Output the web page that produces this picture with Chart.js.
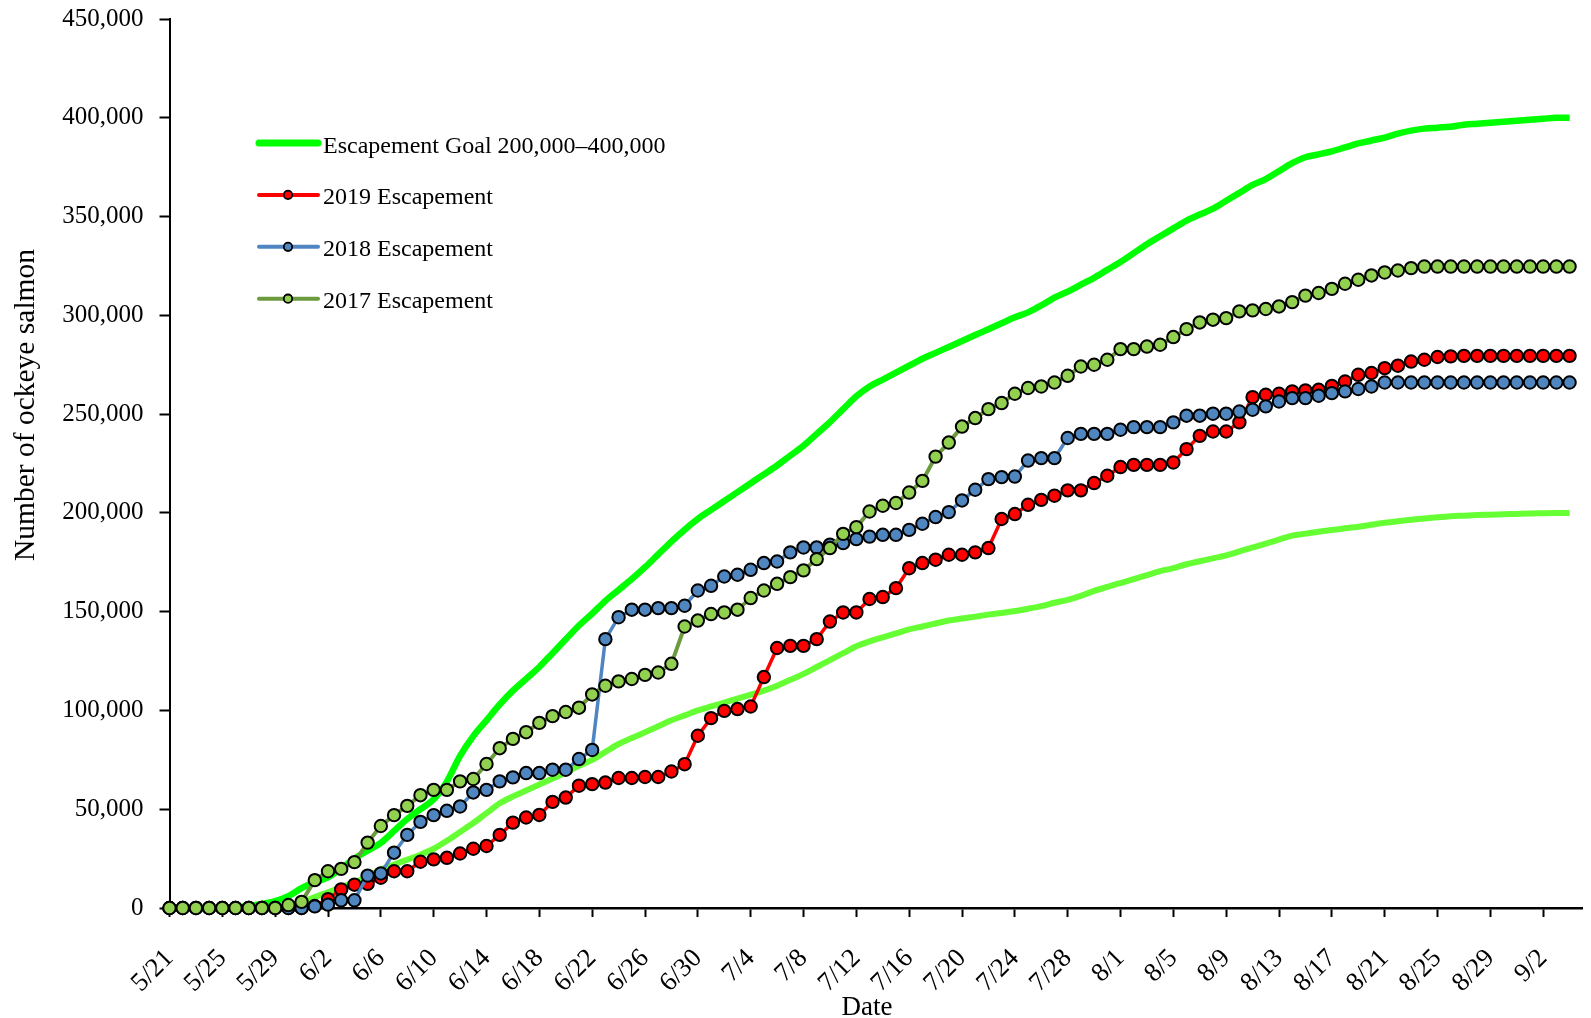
<!DOCTYPE html>
<html><head><meta charset="utf-8">
<script src="https://cdn.jsdelivr.net/npm/chart.js@4.4.1/dist/chart.umd.min.js"></script>
<style>html,body{margin:0;padding:0;background:#fff;}#wrap{position:relative;width:1591px;height:1018px;}</style>
</head><body><div id="wrap"><canvas id="c" width="1591" height="1018"></canvas></div>
<script>
const categories = [
 '5/21','5/22','5/23','5/24','5/25','5/26','5/27','5/28','5/29','5/30','5/31',
 '6/1','6/2','6/3','6/4','6/5','6/6','6/7','6/8','6/9','6/10','6/11','6/12','6/13','6/14','6/15','6/16','6/17','6/18','6/19','6/20','6/21','6/22','6/23','6/24','6/25','6/26','6/27','6/28','6/29','6/30',
 '7/1','7/2','7/3','7/4','7/5','7/6','7/7','7/8','7/9','7/10','7/11','7/12','7/13','7/14','7/15','7/16','7/17','7/18','7/19','7/20','7/21','7/22','7/23','7/24','7/25','7/26','7/27','7/28','7/29','7/30','7/31',
 '8/1','8/2','8/3','8/4','8/5','8/6','8/7','8/8','8/9','8/10','8/11','8/12','8/13','8/14','8/15','8/16','8/17','8/18','8/19','8/20','8/21','8/22','8/23','8/24','8/25','8/26','8/27','8/28','8/29','8/30','8/31',
 '9/1','9/2','9/3','9/4','9/5'];
const tickLabels = ['5/21','5/25','5/29','6/2','6/6','6/10','6/14','6/18','6/22','6/26','6/30','7/4','7/8','7/12','7/16','7/20','7/24','7/28','8/1','8/5','8/9','8/13','8/17','8/21','8/25','8/29','9/2'];

const goalUpper = [0,0,0,0,0,300,1000,2000,3500,6000,10000,13000,15500,20000,25000,29000,33000,39000,45000,50000,55000,
 64000,77000,87000,95000,103000,110000,116000,122000,129000,136000,143000,149000,155500,161000,166500,172500,179000,185500,191500,197000,
 201500,206000,210500,215000,219500,224000,229000,234000,240000,246000,252500,259000,264000,267500,271000,274500,278000,281000,284000,287000,
 290000,293000,296000,299000,301500,305000,309000,312000,315500,319000,323000,327000,331500,336000,340000,344000,348000,351000,354000,358000,
 362000,366000,369000,373000,377000,380000,381500,383000,385000,387000,388500,390000,392000,393500,394500,395000,395500,396500,397000,397500,
 398000,398500,399000,399500,400000,400000];
const goalLower = [0,0,0,0,0,0,0,0,0,1000,3000,5500,8000,10500,13000,16000,19500,22000,24500,27000,30000,
 34000,38500,43000,48000,53000,56500,59500,62500,65500,68500,72000,75000,79000,83000,86000,89000,92000,95000,97500,100000,
 102000,104000,106000,108000,110000,112500,115500,118500,122000,125500,129000,132500,135000,137000,139000,141000,142500,144000,145500,146500,
 147500,148500,149300,150300,151500,152800,154500,156000,158000,160500,162500,164500,166500,168500,170500,172000,174000,175500,177000,178500,
 180500,182500,184500,186500,188500,189500,190500,191300,192200,193000,194000,195000,195800,196500,197200,197800,198300,198600,198900,199100,
 199300,199500,199700,199800,199900,200000];
const esc2019 = [0,0,0,0,0,0,0,0,0,0,0,1000,4500,9400,11800,12200,15300,18600,18600,23400,24600,
 25400,27600,30000,31400,37000,43200,45800,47100,53700,55900,61900,62700,63500,65800,65800,66300,66300,69100,72800,87200,
 96100,99800,100700,102000,116900,131600,132700,132700,136100,145000,149600,149600,156400,157400,161900,172000,174600,176300,178800,178800,
 180000,182200,196900,199400,204100,206600,208700,211400,211400,215100,218800,223200,224300,224300,224300,225500,232300,239000,241200,241200,
 245800,258600,259800,260300,261500,262000,262300,264300,266500,269900,270800,273300,274500,276600,277500,278900,279200,279500,279500,279500,
 279500,279500,279500,279500,279500,279500];
const esc2018 = [0,0,0,0,0,0,0,0,0,0,0,800,1700,3900,3900,16400,17500,28000,37000,43600,47000,
 49200,51400,58500,59800,64100,66100,68300,68300,70000,70000,75400,80000,136100,147200,151000,151000,151800,151800,153000,160700,
 163100,167800,168700,171200,174600,175400,180000,182500,182500,183900,184700,186700,188000,188900,188900,191400,194500,197900,200400,206300,
 211700,217100,218100,218400,226500,227700,227700,237900,240000,240000,240000,242100,243400,243400,243400,245800,249200,249200,250200,250200,
 251300,252200,253900,256400,258100,258100,259300,260600,261500,262700,264000,266000,266000,266000,266000,266000,266000,266000,266000,266000,
 266000,266000,266000,266000,266000,266000];
const esc2017 = [0,0,0,0,0,0,0,0,0,1500,3100,14100,18600,19800,23200,33100,41500,47000,51700,57100,59800,
 59800,64100,65300,72900,80900,85600,89000,93700,97100,99200,101400,108100,112500,114700,115900,118000,119200,123600,142500,145500,
 148800,149600,151000,156900,160700,164100,167500,170900,176600,182200,189400,192800,200700,203600,205000,210300,216200,228500,235600,243700,
 248000,252500,255600,260300,263200,264000,266000,269400,274100,275000,277500,282900,282900,284200,285100,289000,293000,296400,297800,298600,
 302000,302500,303200,304500,306700,310000,311300,313400,316000,318000,320200,321700,322700,323900,324700,324700,324700,324700,324700,324700,
 324700,324700,324700,324700,324700,324700];

const legendLabels = ['Escapement Goal 200,000\u2013400,000','2019 Escapement','2018 Escapement','2017 Escapement'];
const xTitle = 'Date';
const yTitle = 'Number of ockeye salmon';

const SERIF = "'Liberation Serif','Times New Roman',serif";
const C = {
  goalUp:'#00FF00', goalLo:'#66FF33',
  r19:'#FF0000', b18line:'#4F86C2', b18fill:'#4F86C0', g17line:'#6B9B3E', g17fill:'#92D050'
};

const legendItems = [
  {label:legendLabels[0], color:C.goalUp, width:7, marker:null},
  {label:legendLabels[1], color:C.r19, width:4, marker:C.r19},
  {label:legendLabels[2], color:C.b18line, width:4, marker:C.b18fill},
  {label:legendLabels[3], color:C.g17line, width:4, marker:C.g17fill}
];

const overlay = {
  id:'overlay',
  afterDraw(chart){
    const ctx = chart.ctx;
    ctx.save();
    ctx.fillStyle = '#000';
    ctx.font = '29.5px ' + SERIF;
    ctx.textAlign = 'center';
    ctx.textBaseline = 'alphabetic';
    ctx.save();
    ctx.translate(34, 405);
    ctx.rotate(-Math.PI/2);
    ctx.fillText(yTitle, 0, 0);
    ctx.restore();
    ctx.font = '27px ' + SERIF;
    ctx.fillText(xTitle, 867, 1015);
    ctx.font = '24px ' + SERIF;
    ctx.textAlign = 'left';
    legendItems.forEach((it, i) => {
      const y = 143 + i * 51.9;
      ctx.beginPath();
      ctx.strokeStyle = it.color;
      ctx.lineWidth = it.width;
      ctx.lineCap = 'round';
      ctx.moveTo(259, y); ctx.lineTo(318, y);
      ctx.stroke();
      if (it.marker) {
        ctx.beginPath();
        ctx.arc(288, y, 4.2, 0, Math.PI*2);
        ctx.fillStyle = it.marker; ctx.fill();
        ctx.lineWidth = 1.8; ctx.strokeStyle = '#000'; ctx.stroke();
      }
      ctx.fillStyle = '#000';
      ctx.fillText(it.label, 323, y + 9.5);
    });
    ctx.restore();
  }
};

const tickEvery4 = ctx => (ctx.index % 4 === 0 && ctx.index < 105) ? '#000' : 'rgba(0,0,0,0)';

new Chart(document.getElementById('c'), {
  type:'line',
  data:{
    labels:categories,
    datasets:[
      {label:legendLabels[3], data:esc2017, borderColor:C.g17line, borderWidth:4, pointRadius:6.2, pointBorderWidth:2, pointBorderColor:'#000', pointBackgroundColor:C.g17fill, tension:0, clip:false},
      {label:legendLabels[2], data:esc2018, borderColor:C.b18line, borderWidth:3.5, pointRadius:6.2, pointBorderWidth:2, pointBorderColor:'#000', pointBackgroundColor:C.b18fill, tension:0, clip:false},
      {label:legendLabels[1], data:esc2019, borderColor:C.r19, borderWidth:3.5, pointRadius:6.2, pointBorderWidth:2, pointBorderColor:'#000', pointBackgroundColor:C.r19, tension:0, clip:false},
      {label:legendLabels[0], data:goalUpper, borderColor:C.goalUp, borderWidth:6.5, pointRadius:0, tension:0.3, cubicInterpolationMode:'monotone', clip:false},
      {label:'Escapement Goal lower', data:goalLower, borderColor:C.goalLo, borderWidth:6, pointRadius:0, tension:0.3, cubicInterpolationMode:'monotone', clip:false}
    ]
  },
  options:{
    responsive:false, animation:false, devicePixelRatio:1,
    layout:{padding:{top:19, right:3, left:0, bottom:0}},
    plugins:{legend:{display:false}, tooltip:{enabled:false}},
    scales:{
      x:{
        type:'category', offset:false,
        grid:{display:true, drawOnChartArea:false, drawTicks:true, tickLength:9, tickWidth:2, tickColor:tickEvery4, color:'rgba(0,0,0,0)'},
        border:{display:true, color:'#000', width:2.5},
        ticks:{autoSkip:false, maxRotation:45, minRotation:45, padding:26, color:'#000', font:{family:SERIF, size:26.5},
          callback:(v,i)=> (i % 4 === 0 && tickLabels.includes(categories[i])) ? categories[i] : ''},
        afterFit:(s)=>{ s.height = 110; s.paddingRight = 0; s.paddingLeft = 0; }
      },
      y:{
        min:0, max:450000,
        grid:{display:true, drawOnChartArea:false, drawTicks:true, tickLength:10, tickWidth:2, tickColor:'#000', color:'rgba(0,0,0,0)'},
        border:{display:true, color:'#000', width:2},
        ticks:{stepSize:50000, padding:16, color:'#000', font:{family:SERIF, size:25},
          callback:v=>v.toLocaleString('en-US')},
        afterFit:(s)=>{ s.width = 169.5; s.paddingTop = 0; s.paddingBottom = 0; }
      }
    }
  },
  plugins:[overlay]
});
</script></body></html>
